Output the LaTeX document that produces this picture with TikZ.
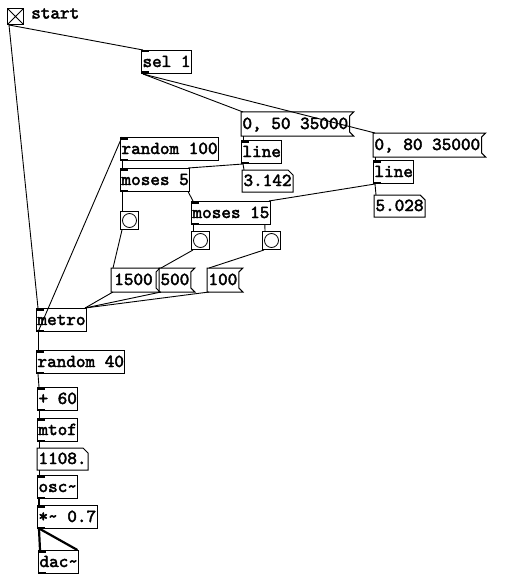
\documentclass[tikz,border=0pt]{standalone}
\usepackage{fontspec}
\newfontfamily\pdfont[FakeBold=2.5]{lmmono10-regular.otf}

\begin{document}
\begin{tikzpicture}[
    x=1pt, y=-1pt,
    font=\pdfont\bfseries\fontsize{18.3}{18}\selectfont,
    box/.style={
        anchor=north west,
        inner xsep=1pt,
        inner ysep=0pt,
        text height=12pt,
        text depth=2pt,
        line width=1pt
    },
    obj/.style={box, draw, minimum height=23pt,
        path picture={
            \fill (path picture bounding box.north west) rectangle ++(7pt,-2pt);
            \fill (path picture bounding box.south west) rectangle ++(7pt,2pt);
        }},
    msg/.style={box, minimum height=23pt},
    num/.style={box, minimum height=21pt},
    bng/.style={anchor=north west, draw, line width=1pt, minimum size=18pt,
        inner sep=0pt,
        path picture={\draw[line width=0.8pt]
            (path picture bounding box.center) circle (7pt);}},
    tgl/.style={anchor=north west, draw, line width=1pt, minimum size=16pt,
        inner sep=0pt,
        path picture={\draw[line width=0.8pt]
            (path picture bounding box.north west) -- (path picture bounding box.south east)
            (path picture bounding box.north east) -- (path picture bounding box.south west);}},
    wire/.style={line width=0.9pt},
    sig/.style={line width=2.2pt},
    flag/.style={line width=1pt}
]
    \fill[white] (0,0) rectangle (518,575);
    \useasboundingbox (0,0) rectangle (518,575);

    % toggle and the ramp section
    \node[tgl] (start) at (7,8) {};
    \node[anchor=base west, inner sep=0pt] (startlabel) at (31,18.5) {start};
    \node[obj] (sel) at (141,50) {sel 1};
    \node[msg] (m50) at (241,112) {0, 50 35000};
    \node[obj] (line1) at (241,140) {line};
    \node[num] (n3142) at (242,170) {3.142};
    \node[msg] (m80) at (373,133) {0, 80 35000};
    \node[obj] (line2) at (373,160) {line};
    \node[num] (n5028) at (374,195) {5.028};

    % random tempo choice
    \node[obj] (rand100) at (120,137) {random 100};
    \node[obj] (moses5) at (120,168) {moses 5};
    \node[obj] (moses15) at (191,201) {moses 15};
    \node[bng] (bng1) at (120,211) {};
    \node[bng] (bng2) at (191,231) {};
    \node[bng] (bng3) at (262,231) {};
    \node[msg, minimum width=44pt] (d1500) at (111,268) {1500};
    \node[msg] (d500) at (159,268) {500};
    \node[msg] (d100) at (207,268) {100};

    % note chain
    \node[obj] (metro) at (36,308) {metro};
    \node[obj] (rand40) at (36,350) {random 40};
    \node[obj] (plus60) at (37,387) {+ 60};
    \node[obj] (mtof) at (37,418) {mtof};
    \node[num] (n1108) at (37,448) {1108.};
    \node[obj] (osc) at (37,475) {osc\textasciitilde};
    \node[obj] (mul) at (37,505) {*\textasciitilde{} 0.7};
    \node[obj] (dac) at (38,550) {dac\textasciitilde};

    % message and number box outlines
    \foreach \m in {m50,m80,d1500,d500,d100} {
        \draw[flag] (\m.north west) -- ([xshift=4pt]\m.north east)
            -- ([yshift=-4pt]\m.north east) -- ([yshift=4pt]\m.south east)
            -- ([xshift=4pt]\m.south east) -- (\m.south west) -- cycle;
    }
    \foreach \n in {n3142,n5028,n1108} {
        \draw[flag] (\n.north west) -- ([xshift=-5pt]\n.north east)
            -- ([yshift=-5pt]\n.north east) -- (\n.south east)
            -- (\n.south west) -- cycle;
    }

    \draw[wire] ([xshift=2pt]start.south west) -- ([xshift=2pt]sel.north west);
    \draw[wire] ([xshift=2pt]start.south west) -- ([xshift=2pt]metro.north west);
    \draw[wire] ([xshift=2pt]sel.south west) -- ([xshift=2pt]m50.north west);
    \draw[wire] ([xshift=2pt]sel.south west) -- ([xshift=2pt]m80.north west);
    \draw[wire] ([xshift=2pt]m50.south west) -- ([xshift=2pt]line1.north west);
    \draw[wire] ([xshift=2pt]line1.south west) -- ([xshift=2pt]n3142.north west);
    \draw[wire] ([xshift=2pt]line1.south west) -- ([xshift=-2pt]moses5.north east);
    \draw[wire] ([xshift=2pt]m80.south west) -- ([xshift=2pt]line2.north west);
    \draw[wire] ([xshift=2pt]line2.south west) -- ([xshift=2pt]n5028.north west);
    \draw[wire] ([xshift=2pt]line2.south west) -- ([xshift=-2pt]moses15.north east);

    \draw[wire] ([xshift=2pt]metro.south west) -- ([xshift=2pt]rand100.north west);
    \draw[wire] ([xshift=2pt]rand100.south west) -- ([xshift=2pt]moses5.north west);
    \draw[wire] ([xshift=2pt]moses5.south west) -- ([xshift=2pt]bng1.north west);
    \draw[wire] ([xshift=-2pt]moses5.south east) -- ([xshift=2pt]moses15.north west);
    \draw[wire] ([xshift=2pt]moses15.south west) -- ([xshift=2pt]bng2.north west);
    \draw[wire] ([xshift=-6pt]moses15.south east) -- ([xshift=3pt]bng3.north west);
    \draw[wire] ([xshift=2pt]bng1.south west) -- ([xshift=2pt]d1500.north west);
    \draw[wire] ([xshift=2pt]bng2.south west) -- ([xshift=2pt]d500.north west);
    \draw[wire] ([xshift=2pt]bng3.south west) -- ([xshift=2pt]d100.north west);
    \foreach \d in {d1500,d500,d100} {
        \draw[wire] ([xshift=2pt]\d.south west) -- ([xshift=-2pt]metro.north east);
    }

    \draw[wire] ([xshift=2pt]metro.south west) -- ([xshift=2pt]rand40.north west);
    \draw[wire] ([xshift=2pt]rand40.south west) -- ([xshift=2pt]plus60.north west);
    \draw[wire] ([xshift=2pt]plus60.south west) -- ([xshift=2pt]mtof.north west);
    \draw[wire] ([xshift=2pt]mtof.south west) -- ([xshift=2pt]n1108.north west);
    \draw[wire] ([xshift=2pt]n1108.south west) -- ([xshift=2pt]osc.north west);
    \draw[sig, line width=1.4pt] ([xshift=2pt]osc.south west) -- ([xshift=2pt]mul.north west);
    \draw[sig] ([xshift=2pt]mul.south west) -- ([xshift=2pt]dac.north west);
    \draw[sig] ([xshift=3pt]mul.south west) -- ([xshift=-2pt]dac.north east);
\end{tikzpicture}
\end{document}
